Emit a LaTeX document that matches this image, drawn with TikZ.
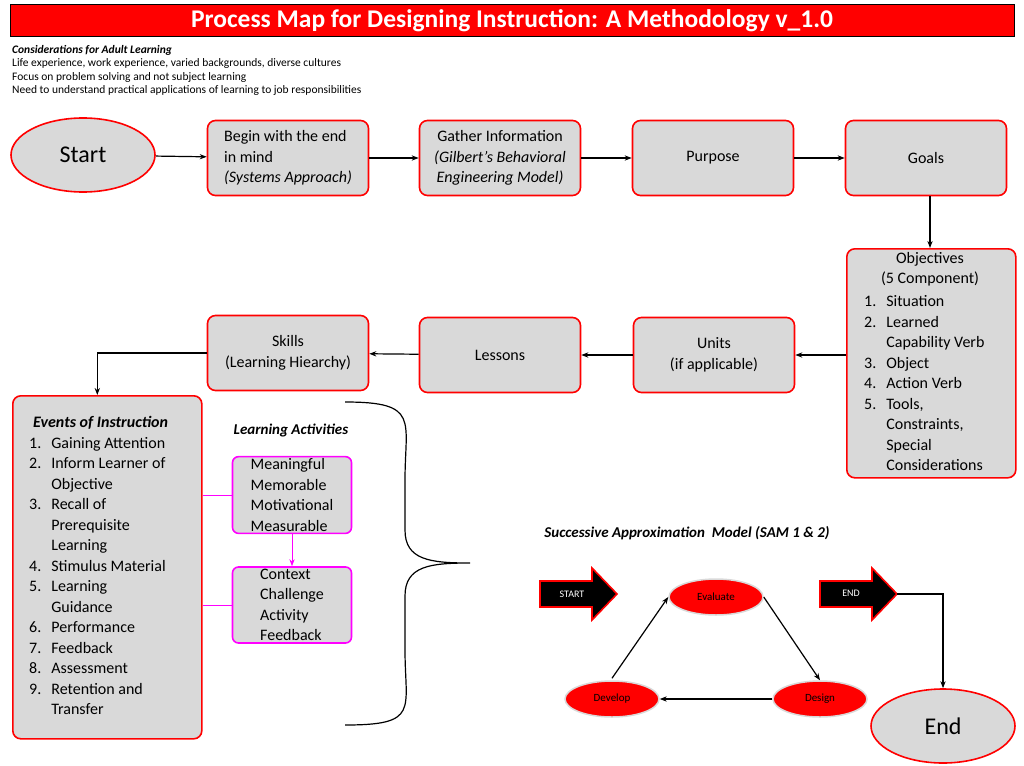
\documentclass[tikz,border=0pt]{standalone}
\usepackage{fontspec}
\setmainfont{Carlito}
\usetikzlibrary{arrows.meta, positioning, shapes.geometric}
\definecolor{boxgray}{HTML}{D9D9D9}
\definecolor{boxred}{HTML}{FF0000}
\definecolor{actpink}{HTML}{FF00FF}
\newcommand{\itemlist}[1]{\begin{tabular}{@{}l@{\hspace{10pt}}l@{}}#1\end{tabular}}

\begin{document}
\begin{tikzpicture}[
    x=1pt, y=-1pt,
    >={Stealth[length=7pt]},
    font=\fontsize{16}{20.5}\selectfont,
    step box/.style={draw=boxred, line width=1.6pt, fill=boxgray, rounded corners=8pt,
        minimum width=161pt, minimum height=75pt, align=center, inner sep=2pt},
    term node/.style={ellipse, draw=boxred, line width=1.6pt, fill=boxgray,
        minimum width=144pt, minimum height=74pt, font=\fontsize{24}{28}\selectfont},
    act box/.style={draw=actpink, line width=1.6pt, fill=boxgray, rounded corners=6pt,
        minimum width=119pt, minimum height=76pt, align=left, inner sep=2pt},
    sam node/.style={ellipse, draw=black!15, line width=1.5pt, fill=boxred,
        minimum width=94pt, minimum height=36pt, font=\fontsize{11}{13}\selectfont},
    sam arrow/.style={draw=boxred, line width=1.6pt, fill=black},
    flow/.style={->, line width=1.2pt},
    act line/.style={line width=1pt, actpink}
]
    \useasboundingbox (0,0) rectangle (1024,765);
    \fill[white] (0,0) rectangle (1024,765);

    % Title
    \node[draw=black, line width=1pt, fill=boxred, minimum width=1004pt, minimum height=32pt,
        text=white, font=\fontsize{25.5}{28}\selectfont\bfseries] (title) at (512,21)
        {Process Map for Designing Instruction: A Methodology v\_1.0};

    % Considerations
    \node[anchor=north west, align=left, font=\fontsize{11.5}{13.5}\selectfont, inner sep=0pt]
        (adult) at (12,45) {\textbf{\textit{Considerations for Adult Learning}}\\
        Life experience, work experience, varied backgrounds, diverse cultures\\
        Focus on problem solving and not subject learning\\
        Need to understand practical applications of learning to job responsibilities};

    % Row 1
    \node[term node] (start) at (83,155) {Start};
    \node[step box, align=left] (begin) at (288,158) {Begin with the end\\in mind\\\textit{(Systems Approach)}};
    \node[step box] (gather) at (500,158) {Gather Information\\\textit{(Gilbert's Behavioral}\\\textit{Engineering Model)}};
    \node[step box] (purpose) at (713,158) {Purpose};
    \node[step box] (goals) at (926,158) {Goals};

    % Objectives
    \node[step box, minimum width=169pt, minimum height=229pt, anchor=north west] (objectives)
        at (846,248) {};
    \node[anchor=north, inner sep=0pt, align=center] (objtitle) at (930,252) {Objectives\\(5 Component)};
    \node[anchor=north west, inner sep=0pt] (objlist) at (864,292) {\itemlist{
        1. & Situation\\ 2. & Learned\\ & Capability Verb\\ 3. & Object\\ 4. & Action Verb\\
        5. & Tools,\\ & Constraints,\\ & Special\\ & Considerations}};

    % Row 2
    \node[step box] (units) at (714,355) {Units\\(if applicable)};
    \node[step box] (lessons) at (500,355) {Lessons};
    \node[step box] (skills) at (288,353) {Skills\\(Learning Hiearchy)};

    % Events of Instruction
    \node[step box, minimum width=189pt, minimum height=343pt, anchor=north west] (events)
        at (12,395) {};
    \node[anchor=north west, inner sep=0pt] (evlist) at (29,413) {\itemlist{
        \multicolumn{2}{@{}l@{}}{\hspace{4pt}\textbf{\textit{Events of Instruction}}}\\
        1. & Gaining Attention\\ 2. & Inform Learner of\\ & Objective\\ 3. & Recall of\\
        & Prerequisite\\ & Learning\\ 4. & Stimulus Material\\ 5. & Learning\\ & Guidance\\
        6. & Performance\\ 7. & Feedback\\ 8. & Assessment\\ 9. & Retention and\\ & Transfer}};

    % Learning activities
    \node[font=\fontsize{15}{18}\selectfont\bfseries\itshape] (lalabel) at (291,430) {Learning Activities};
    \node[act box] (act1) at (292,495) {Meaningful\\Memorable\\Motivational\\Measurable};
    \node[act box] (act2) at (292,605) {Context\\Challenge\\Activity\\Feedback};
    \draw[act line] (events.east |- act1) -- (act1);
    \draw[act line] (events.east |- act2) -- (act2);
    \draw[act line, ->] (act1) -- (act2);

    % Brace
    \draw[line width=1.2pt] (345,402) .. controls (420,402) and (405,420) .. (405,480)
        -- (405,530) .. controls (405,560) and (430,563) .. (470,563)
        .. controls (430,563) and (405,566) .. (405,596) -- (405,650)
        .. controls (405,710) and (420,725) .. (345,725);

    % SAM
    \node[font=\fontsize{15}{18}\selectfont\bfseries\itshape] (samlabel) at (687,533)
        {Successive Approximation \ Model (SAM 1 \& 2)};
    \draw[sam arrow] (540,581) -- (592,581) -- (592,568) -- (617,594) -- (592,620)
        -- (592,607) -- (540,607) -- cycle;
    \node[text=white, font=\fontsize{10}{12}\selectfont] (samstart) at (572,594) {START};
    \draw[sam arrow] (820,581) -- (872,581) -- (872,568) -- (897,594) -- (872,620)
        -- (872,607) -- (820,607) -- cycle;
    \node[text=white, font=\fontsize{10}{12}\selectfont] (samend) at (851,593) {END};
    \coordinate (endtip) at (897,594);
    \node[sam node] (evaluate) at (716,597) {Evaluate};
    \node[sam node] (develop) at (612,699) {Develop};
    \node[sam node] (design) at (820,699) {Design};
    \draw[flow] (develop.north) ++(0,-2) -- (evaluate.west);
    \draw[flow] (evaluate.east) -- (design.north);
    \draw[flow] (design) -- (develop);
    \node[term node] (end) at (943,726) {End};
    \draw[flow] (endtip) -| (end.north);

    % Main flow
    \draw[flow] (start) -- (begin);
    \draw[flow] (begin) -- (gather);
    \draw[flow] (gather) -- (purpose);
    \draw[flow] (purpose) -- (goals);
    \draw[flow] (goals.south -| objtitle) -- (objectives.north -| objtitle);
    \draw[flow] (objectives.west |- units) -- (units);
    \draw[flow] (units) -- (lessons);
    \draw[flow] (lessons) -- (skills);
    \draw[flow] (skills.west) -| ([xshift=-10pt]events.north);
\end{tikzpicture}
\end{document}
